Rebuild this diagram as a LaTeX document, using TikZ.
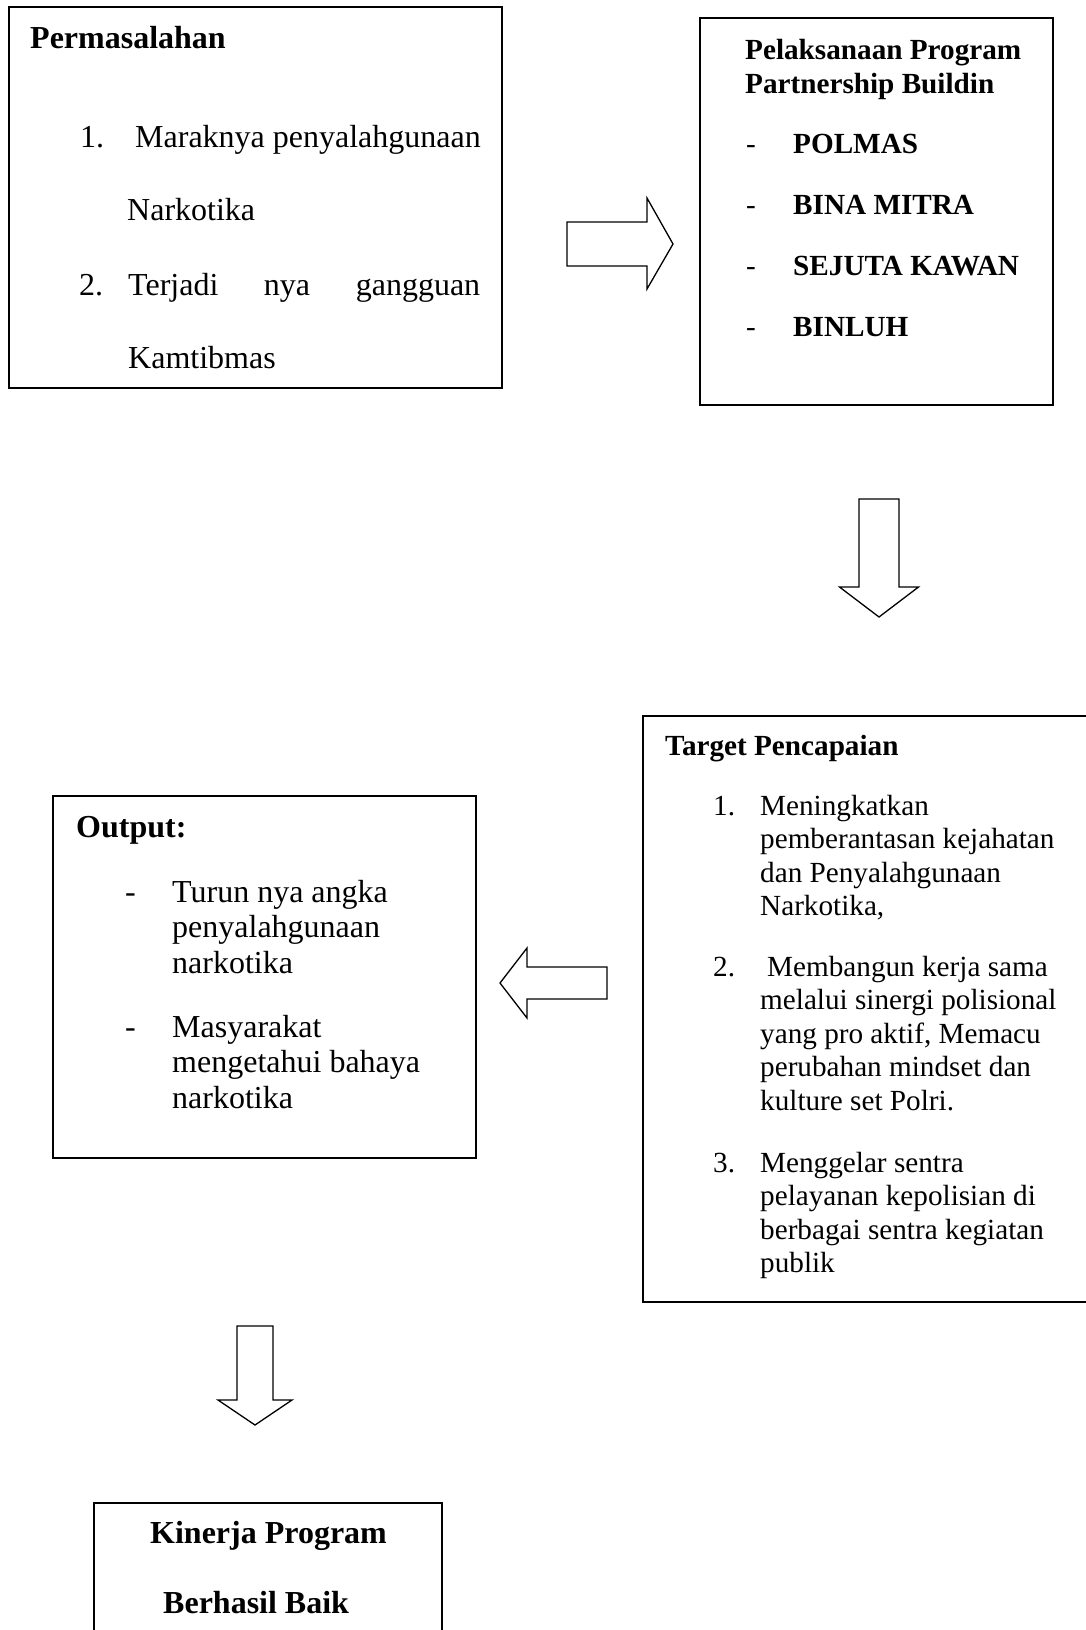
\documentclass[tikz,border=0pt]{standalone}
\usepackage{fontspec}
\setmainfont{Liberation Serif}
\usetikzlibrary{calc}

\tikzset{
	box/.style = {line width = 2pt},
	blockarrow/.style = {line width = 1.3pt, line join = miter},
	bigtext/.style = {anchor = base west, inner sep = 0pt, font = \fontsize{32}{37}\selectfont},
	smalltext/.style = {anchor = base west, inner sep = 0pt, font = \fontsize{29.2}{33.6}\selectfont},
}

\begin{document}
\begin{tikzpicture}[x = 1pt, y = -1pt]
		\useasboundingbox (0,0) rectangle (1086,1630);
		\clip (0,0) rectangle (1086,1630);
		
		\def\stepsmall{33.5};
		\def\stepbig{35.7};
		
		% boxes
		\draw [box] (9,7) rectangle (502,388);
		\draw [box] (700,18) rectangle (1053,405);
		\draw [box] (643,716) rectangle (1110,1302);
		\draw [box] (53,796) rectangle (476,1158);
		\draw [box] (94,1503) rectangle (442,1660);
		
		% permasalahan
		\node [bigtext, font = \fontsize{32}{37}\selectfont\bfseries] (masalah title) at (30,48) {Permasalahan};
		\node [bigtext] (masalah num 1) at (80,147) {1.};
		\node [bigtext] (masalah line 1) at (135,147) {Maraknya penyalahgunaan};
		\node [bigtext] (masalah line 2) at (127,220) {Narkotika};
		\node [bigtext] (masalah num 2) at (79,295) {2.};
		\node [bigtext] (masalah line 3) at (128,295) {\makebox[352pt][s]{Terjadi nya gangguan}};
		\node [bigtext] (masalah line 4) at (128,368) {Kamtibmas};
		
		% pelaksanaan
		\node [smalltext, font = \fontsize{29.2}{33.6}\selectfont\bfseries] (program title 1) at (745,59) {Pelaksanaan Program};
		\node [smalltext, font = \fontsize{29.2}{33.6}\selectfont\bfseries] (program title 2) at (745,93) {Partnership Buildin};
		\foreach \item [count = \i] in {POLMAS, BINA MITRA, SEJUTA KAWAN, BINLUH} {
			\node [smalltext] (program dash \i) at (746,{153 + (\i - 1)*61.3}) {-};
			\node [smalltext, font = \fontsize{29.2}{33.6}\selectfont\bfseries] (program item \i) at (793,{153 + (\i - 1)*61.3}) {\item};
		}
		
		% target
		\node [smalltext, font = \fontsize{29.2}{33.6}\selectfont\bfseries] (target title) at (665,755) {Target Pencapaian};
		\node [smalltext] (target num 1) at (713,815) {1.};
		\foreach \line [count = \i] in {Meningkatkan, pemberantasan kejahatan, dan Penyalahgunaan, {Narkotika,}}
			\node [smalltext] (target a\i) at (760,{815 + (\i - 1)*\stepsmall}) {\line};
		\node [smalltext] (target num 2) at (713,976) {2.};
		\foreach \line [count = \i] in {Membangun kerja sama, melalui sinergi polisional, {yang pro aktif, Memacu}, perubahan mindset dan, kulture set Polri.}
			\node [smalltext] (target b\i) at ({\i == 1 ? 767 : 760},{976 + (\i - 1)*\stepsmall}) {\line};
		\node [smalltext] (target num 3) at (713,1172) {3.};
		\foreach \line [count = \i] in {Menggelar sentra, pelayanan kepolisian di, berbagai sentra kegiatan, publik}
			\node [smalltext] (target c\i) at (760,{1172 + (\i - 1)*\stepsmall}) {\line};
		
		% output
		\node [bigtext, font = \fontsize{32}{37}\selectfont\bfseries] (output title) at (76,837) {Output:};
		\node [bigtext] (output dash 1) at (125,902) {-};
		\foreach \line [count = \i] in {Turun nya angka, penyalahgunaan, narkotika}
			\node [bigtext] (output a\i) at (172,{902 + (\i - 1)*\stepbig}) {\line};
		\node [bigtext] (output dash 2) at (125,1037) {-};
		\foreach \line [count = \i] in {Masyarakat, mengetahui bahaya, narkotika}
			\node [bigtext] (output b\i) at (172,{1037 + (\i - 1)*\stepbig}) {\line};
		
		% kinerja
		\node [bigtext, font = \fontsize{32}{37}\selectfont\bfseries] (kinerja line 1) at (150,1543) {Kinerja Program};
		\node [bigtext, font = \fontsize{32}{37}\selectfont\bfseries] (kinerja line 2) at (163,1613) {Berhasil Baik};
		
		% block arrows
		\coordinate (arrow right tail) at (567,244);
		\draw [blockarrow] ($ (arrow right tail) + (0,-22) $) -- ++(80,0) -- ++(0,-24) -- ($ (arrow right tail) + (106,0) $)
			-- ($ (arrow right tail) + (80,45) $) -- ++(0,-23) -- ($ (arrow right tail) + (0,22) $) -- cycle;
		
		\coordinate (arrow down 1 tail) at (879,499);
		\draw [blockarrow] ($ (arrow down 1 tail) + (-20,0) $) -- ++(0,88) -- ++(-19.5,0) -- ($ (arrow down 1 tail) + (0,118) $)
			-- ($ (arrow down 1 tail) + (39.5,88) $) -- ++(-19.5,0) -- ($ (arrow down 1 tail) + (20,0) $) -- cycle;
		
		\coordinate (arrow left tail) at (607,983);
		\draw [blockarrow] ($ (arrow left tail) + (0,-16) $) -- ++(-80,0) -- ++(0,-19) -- ($ (arrow left tail) + (-107,0) $)
			-- ($ (arrow left tail) + (-80,35) $) -- ++(0,-19) -- ($ (arrow left tail) + (0,16) $) -- cycle;
		
		\coordinate (arrow down 2 tail) at (255,1326);
		\draw [blockarrow] ($ (arrow down 2 tail) + (-18,0) $) -- ++(0,74) -- ++(-19,0) -- ($ (arrow down 2 tail) + (0,99) $)
			-- ($ (arrow down 2 tail) + (37,74) $) -- ++(-19,0) -- ($ (arrow down 2 tail) + (18,0) $) -- cycle;
	\end{tikzpicture}
\end{document}
